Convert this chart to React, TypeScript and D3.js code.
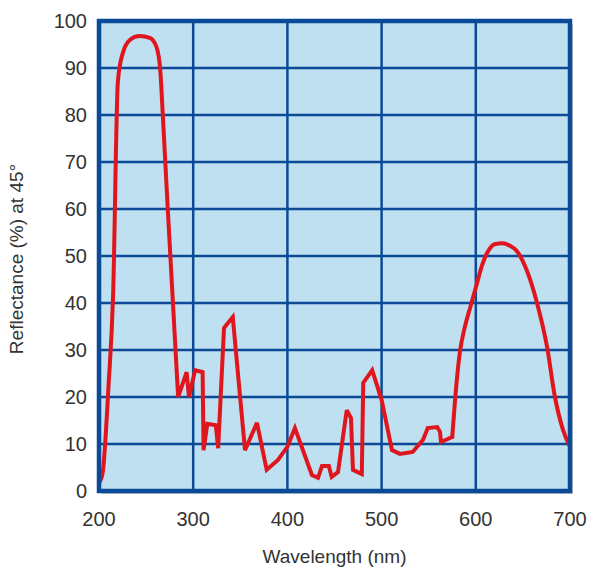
import { useRef, useEffect } from 'react';
import * as d3 from 'd3';

// Reflectance curve
const wavelengths: number[] = [
  201, 204, 210, 215, 220, 225, 233, 243, 254, 261, 265, 268, 273, 284,
  293, 295.5, 302, 310, 311, 315, 324, 326.5, 332.7, 342, 355, 367.7, 378, 390, 400,
  408, 426, 432.5, 436.7, 444, 447, 453.7, 463, 467.5, 469.6, 479, 480.5, 490, 500,
  511, 519.5, 533, 544, 549, 559, 562, 563, 575, 578, 583, 588.5, 594, 601, 606.6,
  613, 620, 628, 636, 643.7, 654, 665, 675.6, 684, 692.6, 699,
];
const reflectance: number[] = [
  2, 4, 22, 42, 87, 93, 96, 96.8, 96.4, 94.5, 89.6, 79, 60, 20,
  25.3, 20, 25.7, 25.3, 8.7, 14.3, 14, 9.1, 34.7, 37, 8.7, 14.5, 4.5, 6.6, 9.4,
  13.4, 3.4, 2.8, 5.3, 5.3, 3, 4, 17.2, 15.5, 4.5, 3.6, 23, 25.7, 19.4,
  8.7, 7.9, 8.3, 10.9, 13.4, 13.6, 12.6, 10.4, 11.5, 19.4, 29.4, 35, 39, 44, 48,
  51, 52.5, 52.7, 52.2, 51, 47, 40, 30.7, 20, 13, 9.8,
];

// where the trace is a smooth arch rather than a jagged polyline
const smoothBefore = 273;
const smoothAfter = 575;

const xTicks: number[] = [200, 300, 400, 500, 600, 700];
const yTicks: number[] = [0, 10, 20, 30, 40, 50, 60, 70, 80, 90, 100];

export default function App() {
  const chartRef = useRef<SVGSVGElement | null>(null);

  useEffect(() => {
    if (!chartRef.current) return;

    const width = 600;
    const height = 576;
    const left = 99, right = 570, top = 21, bottom = 491;
    const blue = '#0b4a96';
    const font = '"Liberation Sans", Arial, sans-serif';

    const svg = d3.select(chartRef.current)
      .attr('width', width)
      .attr('height', height);
    svg.selectAll('*').remove();

    const x = d3.scaleLinear().domain([200, 700]).range([left, right]);
    const y = d3.scaleLinear().domain([0, 100]).range([bottom, top]);

    // shadow + panel
    svg.append('rect')
      .attr('x', left + 3).attr('y', top + 3)
      .attr('width', right - left).attr('height', bottom - top)
      .attr('fill', '#c8c8c8');
    svg.append('rect')
      .attr('x', left).attr('y', top)
      .attr('width', right - left).attr('height', bottom - top)
      .attr('fill', '#bfe0f1');

    // grid
    const grid = svg.append('g').attr('stroke', blue).attr('stroke-width', 2.5);
    grid.selectAll('line.v')
      .data(xTicks.slice(1, -1))
      .enter()
      .append('line')
      .attr('x1', (d) => x(d)).attr('x2', (d) => x(d))
      .attr('y1', top).attr('y2', bottom);
    grid.selectAll('line.h')
      .data(yTicks.slice(1, -1))
      .enter()
      .append('line')
      .attr('x1', left).attr('x2', right)
      .attr('y1', (d) => y(d)).attr('y2', (d) => y(d));

    // curve: smooth arches at both ends, straight segments in between
    const pts: [number, number][] = wavelengths.map((w, i) => [w, reflectance[i]]);
    const segA = pts.filter((p) => p[0] <= smoothBefore);
    const segB = pts.filter((p) => p[0] >= smoothBefore && p[0] <= smoothAfter);
    const segC = pts.filter((p) => p[0] >= smoothAfter);
    const smooth = d3.line<[number, number]>()
      .x((d) => x(d[0]))
      .y((d) => y(d[1]))
      .curve(d3.curveMonotoneX);
    const straight = d3.line<[number, number]>()
      .x((d) => x(d[0]))
      .y((d) => y(d[1]));
    const curve = svg.append('g')
      .attr('fill', 'none')
      .attr('stroke', '#e0161e')
      .attr('stroke-width', 4)
      .attr('stroke-linejoin', 'round')
      .attr('stroke-linecap', 'round');
    curve.append('path').attr('d', smooth(segA) || '');
    curve.append('path').attr('d', straight(segB) || '').attr('stroke-linejoin', 'miter').attr('stroke-miterlimit', 3);
    curve.append('path').attr('d', smooth(segC) || '');

    // frame
    svg.append('rect')
      .attr('x', left).attr('y', top)
      .attr('width', right - left).attr('height', bottom - top)
      .attr('fill', 'none')
      .attr('stroke', blue)
      .attr('stroke-width', 4.5);

    // tick labels
    svg.selectAll('text.xt')
      .data(xTicks)
      .enter()
      .append('text')
      .text((d) => String(d))
      .attr('x', (d) => x(d))
      .attr('y', 526)
      .attr('text-anchor', 'middle')
      .attr('font-family', font)
      .attr('font-size', '20px')
      .attr('fill', '#333');
    svg.selectAll('text.yt')
      .data(yTicks)
      .enter()
      .append('text')
      .text((d) => String(d))
      .attr('x', 87)
      .attr('y', (d) => y(d) + 7)
      .attr('text-anchor', 'end')
      .attr('font-family', font)
      .attr('font-size', '20px')
      .attr('fill', '#333');

    // axis titles
    svg.append('text')
      .text('Wavelength (nm)')
      .attr('x', (left + right) / 2)
      .attr('y', 563)
      .attr('text-anchor', 'middle')
      .attr('font-family', font)
      .attr('font-size', '19px')
      .attr('fill', '#333');
    svg.append('text')
      .text('Reflectance (%) at 45°')
      .attr('transform', `translate(23, ${(top + bottom) / 2 + 3}) rotate(-90)`)
      .attr('text-anchor', 'middle')
      .attr('font-family', font)
      .attr('font-size', '19px')
      .attr('fill', '#333');
  }, []);

  return (
    <div>
      <svg ref={chartRef} style={{ position: 'absolute', left: 0, top: 0 }}></svg>
    </div>
  );
}
